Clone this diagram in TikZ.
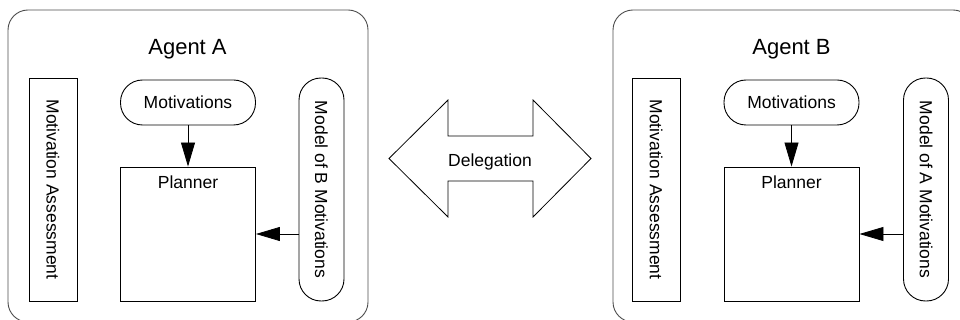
\documentclass[tikz,border=0pt]{standalone}
\usepackage{fontspec}
\setmainfont{Liberation Sans}
\usetikzlibrary{arrows.meta}
\begin{document}
\begin{tikzpicture}[x=1pt,y=-1pt,
  agentbox/.style={draw=black!70, line width=0.9pt, rounded corners=20pt, minimum width=360pt, minimum height=312pt, inner sep=0pt},
  plainbox/.style={draw, line width=0.9pt, inner sep=0pt, font=\fontsize{17.5}{20}\selectfont},
  pill/.style={plainbox, rounded corners=22pt},
  sidebar/.style={rotate=-90, minimum width=223pt},
  lbl/.style={font=\fontsize{17.5}{20}\selectfont, inner sep=0pt, anchor=base},
  title/.style={font=\fontsize{22}{26}\selectfont, inner sep=0pt, anchor=base},
  flow/.style={draw, line width=0.8pt, -{Triangle[length=24pt,width=14pt]}}
]
\path[use as bounding box] (0,0) rectangle (960,320);
\clip (0,0) rectangle (960,320);

% ---- Agent A ----
\node[agentbox] (agentA) at (188,166) {};
\node[title] (titleA) at (187.5,55) {Agent A};
\node[plainbox, sidebar, minimum height=48pt] (assessA) at (53,189.5) {Motivation Assessment};
\node[pill, minimum width=135pt, minimum height=45pt] (motivA) at (188,102.5) {Motivations};
\node[plainbox, minimum width=135pt, minimum height=134pt] (plannerA) at (188,234) {};
\node[lbl] (plannerAtxt) at (188,189) {Planner};
\node[pill, sidebar, minimum height=45pt] (modelA) at (321.5,189.5) {Model of B Motivations};
\draw[flow] (motivA) -- (plannerA);
\draw[flow] (plannerA.east -| modelA.south) -- (plannerA.east);

% ---- Agent B ----
\node[agentbox] (agentB) at (793,166) {};
\node[title] (titleB) at (791.5,55) {Agent B};
\node[plainbox, sidebar, minimum height=48pt] (assessB) at (656,189.5) {Motivation Assessment};
\node[pill, minimum width=135pt, minimum height=45pt] (motivB) at (791.5,102.5) {Motivations};
\node[plainbox, minimum width=135pt, minimum height=134pt] (plannerB) at (791.5,234) {};
\node[lbl] (plannerBtxt) at (791.5,189) {Planner};
\node[pill, sidebar, minimum height=45pt] (modelB) at (926,189.5) {Model of A Motivations};
\draw[flow] (motivB) -- (plannerB);
\draw[flow] (plannerB.east -| modelB.south) -- (plannerB.east);

% ---- Delegation double arrow ----
\draw[line width=0.8pt]
  (389,158.5) -- (448,100) -- (448,136) -- (533,136) -- (533,100)
  -- (591,158.5) -- (533,217) -- (533,181) -- (448,181) -- (448,217) -- cycle;
\node[lbl] (deleg) at (490,167) {Delegation};
\end{tikzpicture}
\end{document}
